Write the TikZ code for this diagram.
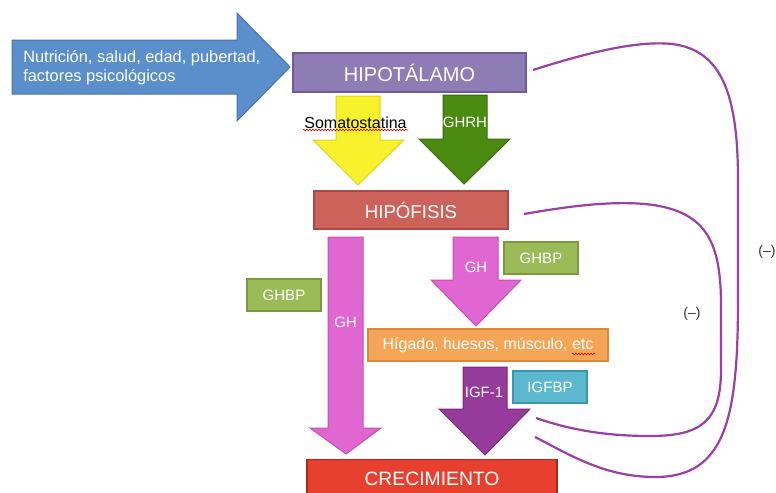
\documentclass[tikz,border=0pt]{standalone}
\usepackage{fontspec}
\setmainfont{Liberation Sans}
\usetikzlibrary{decorations.pathmorphing}
\newdimen\pxu \pxu=0.75pt
\definecolor{cBlue}{HTML}{5A8FCB}
\definecolor{cBlueD}{HTML}{4674AA}
\definecolor{cHipo}{HTML}{8E7CB5}
\definecolor{cHipoD}{HTML}{6E5A96}
\definecolor{cYel}{HTML}{F7F22C}
\definecolor{cYelD}{HTML}{DCD520}
\definecolor{cGrn}{HTML}{4A8A10}
\definecolor{cGrnD}{HTML}{386C0A}
\definecolor{cHipof}{HTML}{CD625B}
\definecolor{cHipofD}{HTML}{A84A45}
\definecolor{cPink}{HTML}{E066D1}
\definecolor{cPinkD}{HTML}{C54FB5}
\definecolor{cGhbp}{HTML}{9BBB59}
\definecolor{cGhbpD}{HTML}{7A9A40}
\definecolor{cOra}{HTML}{F4A555}
\definecolor{cOraD}{HTML}{D8893A}
\definecolor{cIgf}{HTML}{963A9C}
\definecolor{cIgfD}{HTML}{772C7D}
\definecolor{cIgfbp}{HTML}{5BB8CF}
\definecolor{cIgfbpD}{HTML}{3A95AD}
\definecolor{cCre}{HTML}{E8402F}
\definecolor{cCreD}{HTML}{A8281C}
\definecolor{cFb}{HTML}{9B3FA6}
\tikzset{
  box/.style={rectangle, draw, line width=1.2\pxu, inner sep=0pt, text=white},
  bigtxt/.style={font=\fontsize{14}{16}\selectfont},
  midtxt/.style={font=\fontsize{12}{14}\selectfont},
  smalltxt/.style={font=\fontsize{11.25}{13}\selectfont},
  shape arrow/.style={line width=1\pxu, line join=miter},
  lbl/.style={text=white, inner sep=0pt, font=\fontsize{11.25}{13}\selectfont},
  feedback/.style={draw=cFb, line width=2.2\pxu},
  minus/.style={text=black!80, font=\fontsize{10.5}{12}\selectfont, inner sep=0pt},
  spell/.style={draw=red!85!black, line width=0.6\pxu, decorate, decoration={snake, amplitude=0.8\pxu, segment length=3\pxu}}
}
\begin{document}
\begin{tikzpicture}[x=0.75pt,y=-0.75pt]
\useasboundingbox (0,0) rectangle (776,493);

% blue input arrow
\draw[shape arrow, fill=cBlue, draw=cBlueD] (12,40) -- (237,40) -- (237,13) -- (290,67) -- (237,121) -- (237,94) -- (12,94) -- cycle;
\node[anchor=west, align=left, text=white, inner sep=0pt, font=\fontsize{12.3}{14.5}\selectfont] (input) at (23,67.5) {Nutrición, salud, edad, pubertad,\\factores psicológicos};

% boxes
\node[box, font=\fontsize{15}{17}\selectfont, fill=cHipo, draw=cHipoD, minimum width=233\pxu, minimum height=39\pxu] (hipo) at (409.5,72.5) {HIPOTÁLAMO};

% yellow & green arrows
\draw[shape arrow, fill=cYel, draw=cYelD] (336,96) -- (380,96) -- (380,140) -- (404,140) -- (358,185) -- (313,140) -- (336,140) -- cycle;
\draw[shape arrow, fill=cGrn, draw=cGrnD] (443,95) -- (487,95) -- (487,139) -- (510,139) -- (464,184) -- (419,139) -- (443,139) -- cycle;
\node[inner sep=0pt, text=black, font=\fontsize{12}{14}\selectfont] (soma) at (355.5,122.5) {Somatostatina};
\draw[spell] (303,130) -- (408,130);
\node[lbl] (ghrh) at (465,122) {GHRH};

\node[box, bigtxt, fill=cHipof, draw=cHipofD, minimum width=194\pxu, minimum height=38\pxu] (hipof) at (411,210) {HIPÓFISIS};

% pink arrows
\draw[shape arrow, fill=cPink, draw=cPinkD] (328,237) -- (363,237) -- (363,428) -- (381,428) -- (346,454) -- (310,428) -- (328,428) -- cycle;
\node[lbl] (gh1) at (345.5,322) {GH};
\draw[shape arrow, fill=cPink, draw=cPinkD] (453,237) -- (498,237) -- (498,280) -- (521,280) -- (476,326) -- (431,280) -- (453,280) -- cycle;
\node[lbl] (gh2) at (476,267) {GH};

\node[box, smalltxt, fill=cGhbp, draw=cGhbpD, minimum width=74\pxu, minimum height=32\pxu] (ghbp1) at (284,295) {GHBP};
\node[box, smalltxt, fill=cGhbp, draw=cGhbpD, minimum width=74\pxu, minimum height=32\pxu] (ghbp2) at (541,258) {GHBP};

\node[box, midtxt, fill=cOra, draw=cOraD, minimum width=240\pxu, minimum height=32\pxu] (higado) at (488,345) {Hígado, huesos, músculo, etc};
\draw[spell] (572,354) -- (595,354);

% IGF-1 arrow
\draw[shape arrow, fill=cIgf, draw=cIgfD] (463,367) -- (507,367) -- (507,409) -- (530,409) -- (485,455) -- (439,409) -- (463,409) -- cycle;
\node[lbl] (igf) at (484,392) {IGF-1};

\node[box, smalltxt, fill=cIgfbp, draw=cIgfbpD, minimum width=74\pxu, minimum height=32\pxu] (igfbp) at (550,387) {IGFBP};

\node[box, font=\fontsize{14.5}{16}\selectfont, fill=cCre, draw=cCreD, minimum width=250\pxu, minimum height=42\pxu, anchor=north] (crec) at (432,459) {\raisebox{3pt}{CRECIMIENTO}};

% feedback loops
\coordinate (o1) at (533,70);
\coordinate (o2) at (535,437);
\coordinate (i1) at (524,214);
\coordinate (i2) at (536,418);
\draw[feedback] (o1) .. controls (580,55) and (635,40) .. (672,44)
  .. controls (722,50) and (738,95) .. (738,180) -- (738,300)
  .. controls (738,420) and (725,477) .. (655,477)
  .. controls (605,477) and (570,455) .. (o2);
\draw[feedback] (i1) .. controls (570,206) and (610,201) .. (645,204)
  .. controls (705,210) and (720,240) .. (721,300) -- (721,370)
  .. controls (721,422) and (700,436) .. (650,436)
  .. controls (600,436) and (565,428) .. (i2);
\node[minus] (m1) at (767,252) {(–)};
\node[minus] (m2) at (692,314) {(–)};
\end{tikzpicture}
\end{document}
